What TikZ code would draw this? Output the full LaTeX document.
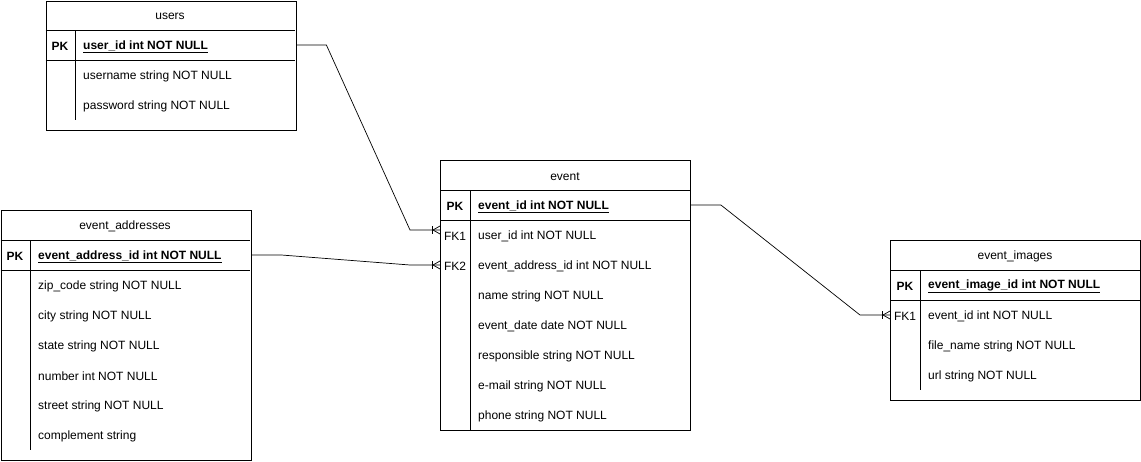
\documentclass[tikz,border=0pt]{standalone}
\usepackage{fontspec}
\setmainfont{Liberation Sans}
\usetikzlibrary{positioning}

\tikzset{
	tbl/.style={draw, rectangle, anchor=north west, minimum width=250pt, inner sep=0pt, line width=0.9pt},
	ttl/.style={inner sep=0pt, yshift=-1.5pt},
	keycol/.style={inner sep=0pt, yshift=-1.5pt},
	fld/.style={anchor=west, inner sep=0pt, yshift=-1.5pt},
	pkfld/.style={fld, font=\fontsize{12}{14}\selectfont\bfseries},
	sep/.style={line width=0.9pt},
	rel/.style={line width=0.7pt},
	crowfoot/.pic={
		\draw[rel] (-8,-4) -- (-8,4);
		\draw[rel] (-7,0) -- (0,-4) (-7,0) -- (0,4);
	}
}

\begin{document}
\begin{tikzpicture}[x=1pt, y=-1pt, font=\fontsize{12}{14}\selectfont]
			\useasboundingbox (0,0) rectangle (1141,461);
			
			% users
			\node[tbl, minimum height=129.5pt] (users) at (45.5,0.5) {};
			\node[ttl] (users-ttl) at (170,15) {users};
			\node[keycol] (users-pkk) at (60,45) {\bfseries PK};
			\node[pkfld] (users-pk) at (83,45) {\underline{user\_id int NOT NULL}};
			\foreach \txt [count=\i] in {username string NOT NULL, password string NOT NULL}
			\node[fld] (users-\i) at (83,45+30*\i) {\txt};
			\draw[sep] (45.5,30) -- (295,30) (45.5,60) -- (295,60) (75,30) -- (75,120);
			
			% event_addresses
			\node[tbl, minimum height=250pt] (addr) at (0.5,210) {};
			\node[ttl] (addr-ttl) at (125,225) {event\_addresses};
			\node[keycol] (addr-pkk) at (15,255) {\bfseries PK};
			\node[pkfld] (addr-pk) at (38,255) {\underline{event\_address\_id int NOT NULL}};
			\foreach \txt [count=\i] in {zip\_code string NOT NULL, city string NOT NULL, state string NOT NULL, number int NOT NULL, street string NOT NULL, complement string}
			\node[fld] (addr-\i) at (38,255+30*\i) {\txt};
			\draw[sep] (0.5,240) -- (250,240) (0.5,270) -- (250,270) (30,240) -- (30,450);
			
			% event
			\node[tbl, minimum height=270pt] (event) at (440,160) {};
			\node[ttl] (event-ttl) at (565,175) {event};
			\node[keycol] (event-pkk) at (455,205) {\bfseries PK};
			\node[pkfld] (event-pk) at (478,205) {\underline{event\_id int NOT NULL}};
			\node[keycol] (event-fk1k) at (455,235) {FK1};
			\node[keycol] (event-fk2k) at (455,265) {FK2};
			\foreach \txt [count=\i] in {user\_id int NOT NULL, event\_address\_id int NOT NULL, name string NOT NULL, event\_date date NOT NULL, responsible string NOT NULL, e-mail string NOT NULL, phone string NOT NULL}
			\node[fld] (event-\i) at (478,205+30*\i) {\txt};
			\draw[sep] (440,190) -- (690,190) (440,220) -- (690,220) (470,190) -- (470,430);
			
			% event_images
			\node[tbl, minimum height=160pt] (img) at (890,240) {};
			\node[ttl] (img-ttl) at (1015,255) {event\_images};
			\node[keycol] (img-pkk) at (905,285) {\bfseries PK};
			\node[pkfld] (img-pk) at (928,285) {\underline{event\_image\_id int NOT NULL}};
			\node[keycol] (img-fk1k) at (905,315) {FK1};
			\foreach \txt [count=\i] in {event\_id int NOT NULL, file\_name string NOT NULL, url string NOT NULL}
			\node[fld] (img-\i) at (928,285+30*\i) {\txt};
			\draw[sep] (890,270) -- (1140,270) (890,300) -- (1140,300) (920,270) -- (920,390);
			
			% relations
			\coordinate (fk1-in) at (440,230);
			\coordinate (fk2-in) at (440,265);
			\coordinate (img-in) at (890,315);
			\draw[rel] (users.east |- 0,45) -- ++(30,0) -- (410,230) -- (fk1-in);
			\draw[rel] (addr.east |- 0,255) -- ++(30,0) -- (410,265) -- (fk2-in);
			\draw[rel] (event.east |- 0,205) -- ++(30,0) -- (860,315) -- (img-in);
			\pic at (fk1-in) {crowfoot};
			\pic at (fk2-in) {crowfoot};
			\pic at (img-in) {crowfoot};
\end{tikzpicture}
\end{document}
